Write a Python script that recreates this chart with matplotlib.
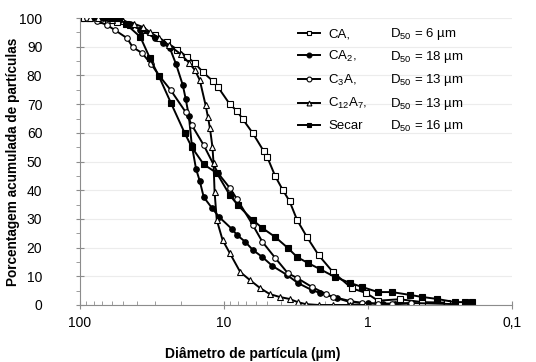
import numpy as np
import matplotlib
matplotlib.use('Agg')
import matplotlib.pyplot as plt
from matplotlib.ticker import FixedLocator, LogLocator, NullFormatter

plt.rcParams['font.family'] = ['Liberation Sans', 'DejaVu Sans']
plt.rcParams['mathtext.default'] = 'regular'

# series: diametro (um) / % acumulada
ca_x = [98, 93, 87, 70, 55, 45, 37, 30, 25, 21, 18, 15.9, 14.0, 11.9, 11.0, 9.1, 8.1, 7.4, 6.3, 5.3,
        5.0, 4.4, 3.9, 3.5, 3.1, 2.65, 2.2, 1.75, 1.29, 1.03, 0.85, 0.6, 0.42, 0.28]
ca_y = [100, 100, 100, 99.3, 98.5, 97.5, 96, 94, 91.5, 89, 86.5, 84.3, 81.2, 78, 76, 70, 67.6, 64.8, 59.9, 53.7,
        51.6, 44.9, 40.1, 36.2, 29.6, 23.7, 17.4, 11.5, 5.8, 4.2, 1.5, 2.0, 1.0, 0.8]

ca2_x = [75, 69, 59, 53, 45, 38, 30, 26.5, 23.7, 21.5, 19.3, 18.4, 17.5, 16.7, 15.6, 14.7, 13.8, 12.1, 10.8,
         8.8, 8.1, 7.1, 6.3, 5.4, 4.6, 3.65, 3.07, 2.45, 2.15, 1.64, 1.33, 1.0, 0.79, 0.65, 0.51]
ca2_y = [100, 100, 100, 100, 98, 96, 93, 91.3, 89.5, 84, 76.7, 71.8, 65.9, 55.7, 47.4, 43.2, 37.6, 33.8, 30.7,
         26.5, 24.4, 22, 19.2, 16.7, 13.6, 10.5, 7.7, 5.2, 4.2, 2.4, 1.0, 0.6, 0.3, 0.3, 0.5]

c3a_x = [89, 76, 65, 57, 47, 43, 37, 32, 28, 23.4, 18.4, 16.7, 13.8, 11, 9.1, 8.1, 6.3, 5.4, 4.4, 3.6,
         3.1, 2.45, 1.95, 1.75, 1.33, 1.1, 0.85, 0.68, 0.5, 0.25]
c3a_y = [100, 99, 97.6, 95.8, 93, 89.9, 87.8, 84, 79.8, 74.9, 67.2, 62.7, 55.7, 46, 40.8, 36.9, 27.9, 22, 16.4, 11.1,
         9.4, 6.3, 3.8, 2.8, 1.4, 0.7, 0.5, 0.5, 0.7, 0.3]

c12a7_x = [85, 75, 60, 50, 42, 36.5, 32.6, 28, 24, 20, 17.5, 15.9, 14.7, 13.4, 12.9, 12.5, 12.0, 11.8, 11.6,
           11.2, 10.2, 9.1, 7.7, 6.6, 5.6, 4.8, 4.1, 3.5, 3.07, 2.7, 2.2, 1.75, 1.33, 1.05]
c12a7_y = [100, 100, 99.5, 99, 98, 96.9, 95.1, 93, 90.5, 87.5, 84.5, 81.9, 78.4, 69.7, 65.5, 61.7, 55, 49.5, 39.4,
           29.6, 22.6, 18.1, 11.5, 8.7, 5.9, 3.8, 2.8, 2.1, 1.0, 0.3, 0, 0, 0, 0]

secar_x = [60, 55, 48, 38, 32.6, 28.3, 23.3, 18.7, 16.7, 13.8, 11.2, 9.1, 8.0, 6.3, 5.4, 4.4, 3.6, 3.1, 2.6,
           2.15, 1.7, 1.33, 1.1, 0.85, 0.68, 0.51, 0.42, 0.33, 0.25, 0.21, 0.19]
secar_y = [100, 100, 98, 93.4, 86, 79.8, 70.4, 59.9, 55, 49, 46, 38.3, 34.8, 29.6, 26.8, 23.7, 19.9, 16.7, 14.6,
           12.5, 9.8, 7.7, 6.3, 4.5, 4.5, 3.5, 2.8, 2.1, 1.0, 1.0, 1.0]

names = ['CA,', 'CA$_2$,', 'C$_3$A,', 'C$_{12}$A$_7$,', 'Secar']
d50 = ['D$_{50}$ = 6 µm', 'D$_{50}$ = 18 µm', 'D$_{50}$ = 13 µm', 'D$_{50}$ = 13 µm', 'D$_{50}$ = 16 µm']

fig = plt.figure(figsize=(5.36, 3.62), dpi=100)
ax = fig.add_axes([0.149, 0.1575, 0.806, 0.7925])

style = dict(color='black', lw=1.4, ms=4, mew=0.8)
h1, = ax.plot(ca_x, ca_y, marker='s', mfc='white', **style)
h2, = ax.plot(ca2_x, ca2_y, marker='o', mfc='black', **style)
h3, = ax.plot(c3a_x, c3a_y, marker='o', mfc='white', **style)
h4, = ax.plot(c12a7_x, c12a7_y, marker='^', mfc='white', **style)
h5, = ax.plot(secar_x, secar_y, marker='s', mfc='black', **style)

ax.set_xscale('log')
ax.set_xlim(100, 0.1)
ax.set_ylim(0, 100)

ax.xaxis.set_major_locator(FixedLocator([100, 10, 1, 0.1]))
ax.set_xticklabels(['100', '10', '1', '0,1'])
ax.xaxis.set_minor_locator(LogLocator(base=10, subs=np.arange(2, 10)))
ax.xaxis.set_minor_formatter(NullFormatter())
ax.set_yticks(np.arange(0, 101, 10))
ax.set_yticks(np.arange(5, 100, 10), minor=True)

ax.grid(axis='y', color='#ececec', lw=0.8)
ax.set_axisbelow(True)
for s in ['top', 'right']:
    ax.spines[s].set_visible(False)
for s in ['left', 'bottom']:
    ax.spines[s].set_color('#8c8c8c')
ax.tick_params(axis='both', which='major', labelsize=10, color='#8c8c8c', direction='inout', length=6)
ax.tick_params(axis='y', which='minor', color='#8c8c8c', direction='out', length=3)
ax.tick_params(axis='x', which='minor', color='#8c8c8c', direction='in', length=3)
ax.tick_params(axis='x', which='major', pad=5)
ax.tick_params(axis='y', which='major', pad=24)

ax.set_xlabel('Diâmetro de partícula (µm)', fontsize=10, fontweight='bold')
ax.xaxis.set_label_coords(0.400, -0.148)
ax.set_ylabel('Porcentagem acumulada de partículas', fontsize=9.8, fontweight='bold')
ax.yaxis.set_label_coords(-0.139, 0.5)

leg = ax.legend([h1, h2, h3, h4, h5], names, loc='upper left', bbox_to_anchor=(0.505, 0.965),
                frameon=False, fontsize=9.5, borderpad=0, borderaxespad=0, handlelength=1.7,
                handletextpad=0.6, labelspacing=0.65)
for lh in leg.get_lines():
    lh.set_markersize(3.5)

fig.canvas.draw()
inv = ax.transAxes.inverted()
for t, s in zip(leg.get_texts(), d50):
    bb = t.get_window_extent()
    yc = inv.transform((0, (bb.y0 + bb.y1) / 2))[1]
    ax.text(0.718, yc, s, transform=ax.transAxes, fontsize=9.5, va='center', ha='left')

fig.savefig('out.png', dpi=100)
